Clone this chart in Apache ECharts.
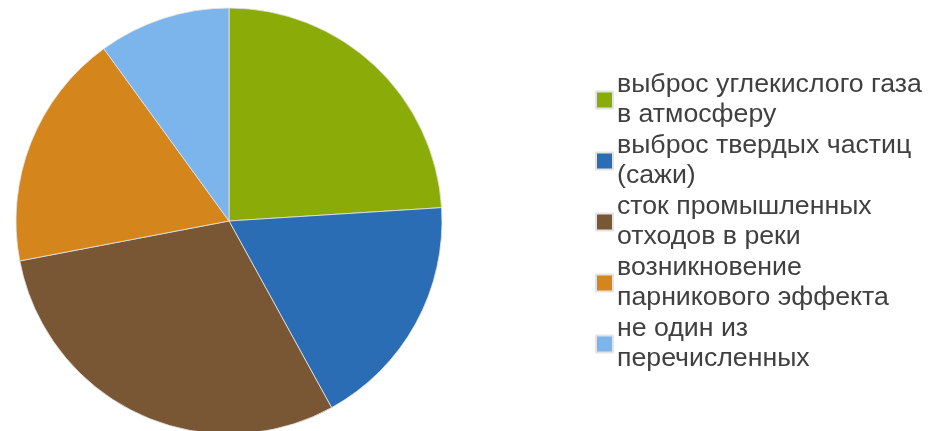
<!DOCTYPE html>
<html>
<head>
<meta charset="utf-8">
<script src="https://cdn.jsdelivr.net/npm/echarts@6/dist/echarts.min.js"></script>
<style>
  html, body { margin: 0; padding: 0; background: #fff; }
  #chart { width: 928px; height: 431px; }
</style>
</head>
<body>
<div id="chart"></div>
<script>
// Sources of air/water pollution: share of answers
const categories = [
  'выброс углекислого газа\nв атмосферу',
  'выброс твердых частиц\n(сажи)',
  'сток промышленных\nотходов в реки',
  'возникновение\nпарникового эффекта',
  'не один из\nперечисленных'
];
const values = [24, 18, 30, 18, 10];
const colors = ['#8aab08', '#2b6db5', '#7a5734', '#d4851b', '#7cb4ec'];

const chart = echarts.init(document.getElementById('chart'), null, { renderer: 'canvas' });

chart.setOption({
  animation: false,
  color: colors,
  legend: {
    orient: 'vertical',
    left: 595,
    top: 70,
    padding: 0,
    itemGap: 1,
    itemWidth: 17,
    itemHeight: 17,
    icon: 'rect',
    data: categories,
    textStyle: {
      fontFamily: 'Liberation Sans, Arial, sans-serif',
      fontSize: 26.7,
      lineHeight: 30,
      color: '#404040',
      padding: [0, 0, 0, -1]
    }
  },
  series: [{
    type: 'pie',
    center: [229, 221],
    radius: 213,
    startAngle: 90,
    clockwise: true,
    label: { show: false },
    labelLine: { show: false },
    itemStyle: { borderColor: '#e4e4e4', borderWidth: 0.8 },
    emphasis: { disabled: true },
    data: categories.map((name, i) => ({ name, value: values[i] }))
  }]
});
</script>
</body>
</html>
